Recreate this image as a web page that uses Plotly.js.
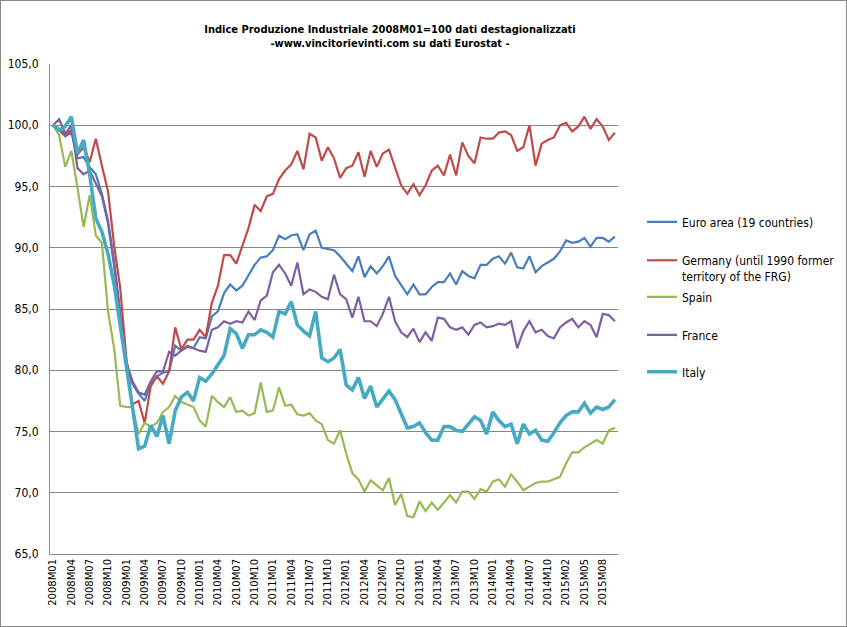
<!DOCTYPE html>
<html>
<head>
<meta charset="utf-8">
<script src="https://cdn.plot.ly/plotly-3.0.1.min.js"></script>
<style>
html,body{margin:0;padding:0;background:#fff;}
#wrap{position:relative;width:847px;height:627px;}
#chart{width:847px;height:627px;}
#frame{position:absolute;left:0;top:0;width:847px;height:627px;box-sizing:border-box;border:1px solid #8a8a8a;pointer-events:none;}
</style>
</head>
<body>
<div id="wrap"><div id="chart"></div><div id="frame"></div></div>
<script>
const categories = [
"2008M01","2008M02","2008M03","2008M04","2008M05","2008M06","2008M07","2008M08","2008M09","2008M10","2008M11","2008M12",
"2009M01","2009M02","2009M03","2009M04","2009M05","2009M06","2009M07","2009M08","2009M09","2009M10","2009M11","2009M12",
"2010M01","2010M02","2010M03","2010M04","2010M05","2010M06","2010M07","2010M08","2010M09","2010M10","2010M11","2010M12",
"2011M01","2011M02","2011M03","2011M04","2011M05","2011M06","2011M07","2011M08","2011M09","2011M10","2011M11","2011M12",
"2012M01","2012M02","2012M03","2012M04","2012M05","2012M06","2012M07","2012M08","2012M09","2012M10","2012M11","2012M12",
"2013M01","2013M02","2013M03","2013M04","2013M05","2013M06","2013M07","2013M08","2013M09","2013M10","2013M11","2013M12",
"2014M01","2014M02","2014M03","2014M04","2014M05","2014M06","2014M07","2014M08","2014M09","2014M10","2014M11","2014M12",
"2015M02","2015M03","2015M04","2015M05","2015M06","2015M07","2015M08","2015M09","2015M10"
];

const euroArea = [100.0,99.6,99.1,99.4,97.3,97.4,96.6,96.0,94.4,92.2,88.9,84.9,
80.5,78.9,78.1,77.5,78.9,79.5,79.8,79.9,82.0,81.6,82.0,81.8,
82.7,82.6,84.4,84.8,86.3,87.0,86.5,86.9,87.8,88.6,89.2,89.3,
89.8,91.0,90.7,91.0,91.1,89.8,91.1,91.4,90.0,89.9,89.8,89.3,
88.7,88.1,89.3,87.6,88.5,87.9,88.5,89.3,87.7,86.9,86.2,87.0,
86.2,86.2,86.8,87.2,87.2,87.9,87.0,88.1,87.7,87.5,88.6,88.6,
89.1,89.3,88.7,89.6,88.4,88.3,89.3,88.0,88.5,88.8,89.1,89.7,
90.6,90.4,90.5,90.8,90.1,90.8,90.8,90.5,90.9];

const germany = [100.0,99.7,99.2,99.6,97.6,98.2,97.0,98.9,96.7,94.6,90.2,86.7,
81.0,77.2,77.5,75.7,78.7,79.5,78.9,79.9,83.5,81.7,82.5,82.5,
83.3,82.7,85.5,86.9,89.4,89.4,88.7,90.2,91.6,93.5,93.0,94.2,
94.4,95.6,96.3,96.8,97.9,96.4,99.3,99.0,97.1,98.2,97.3,95.7,
96.5,96.7,97.8,95.8,97.9,96.6,97.7,98.0,96.5,95.1,94.4,95.2,
94.3,95.1,96.3,96.7,95.9,97.6,95.9,98.6,97.5,96.9,99.0,98.9,
98.9,99.4,99.5,99.2,97.9,98.2,100.0,96.7,98.5,98.8,99.0,100.0,
100.2,99.5,99.9,100.7,99.7,100.5,99.9,98.8,99.4];

const spain = [100.0,99.2,96.6,97.9,94.9,91.7,94.3,91.0,90.4,84.8,81.8,77.1,
77.0,77.0,74.8,75.7,75.4,75.7,76.6,77.0,77.9,77.4,77.2,77.0,
75.9,75.4,77.9,77.4,77.0,77.8,76.6,76.7,76.3,76.5,79.0,76.6,
76.7,78.6,77.1,77.2,76.4,76.3,76.5,75.9,75.6,74.3,74.0,75.1,
73.2,71.6,71.1,70.1,71.0,70.6,70.2,71.2,69.0,69.9,68.1,68.0,
69.3,68.5,69.2,68.6,69.2,69.8,69.2,70.1,70.1,69.5,70.3,70.1,
70.9,71.1,70.5,71.5,70.9,70.2,70.5,70.8,70.9,70.9,71.1,71.3,
72.4,73.3,73.3,73.7,74.0,74.3,74.0,75.1,75.3];

const france = [100.0,100.5,99.3,100.0,96.5,96.0,96.3,95.3,94.2,92.0,88.5,84.5,
80.7,79.1,78.2,78.0,79.1,79.9,79.9,81.5,81.2,81.6,81.9,81.8,
81.6,81.5,83.3,83.5,84.0,83.8,84.0,83.9,84.8,84.1,85.7,86.1,
88.0,88.6,87.9,86.9,88.8,86.2,86.6,86.4,86.0,85.8,87.8,86.2,
85.8,84.3,86.0,84.0,84.0,83.6,84.6,86.0,84.0,83.1,82.7,83.4,
82.3,83.1,82.4,84.3,84.2,83.5,83.3,83.5,82.9,83.7,83.9,83.5,
83.6,83.8,83.7,84.0,81.8,83.2,84.0,83.1,83.3,82.8,82.6,83.5,
83.9,84.2,83.5,84.0,83.7,82.7,84.6,84.5,84.0];

const italy = [100.0,99.6,99.9,100.7,97.7,98.8,96.0,92.4,91.3,89.5,87.0,83.5,
80.0,77.0,73.6,73.8,75.5,74.6,76.3,74.0,76.7,77.8,78.2,77.5,
79.4,79.1,79.7,80.5,81.2,83.4,83.0,81.8,82.9,82.9,83.3,83.1,
82.7,84.8,84.6,85.6,83.7,83.2,82.8,84.8,81.0,80.7,81.0,81.7,
78.8,78.4,79.4,77.7,78.7,77.0,77.6,78.3,77.6,76.4,75.3,75.4,
75.7,74.9,74.3,74.3,75.4,75.4,75.1,75.0,75.6,76.2,75.9,74.8,
76.6,75.9,75.4,75.6,74.0,75.6,74.8,75.1,74.3,74.2,74.9,75.7,
76.3,76.6,76.6,77.3,76.5,77.0,76.8,77.0,77.6];

const seriesNames = ["Euro area (19 countries)","Germany (until 1990 former<br>territory of the FRG)","Spain","France","Italy"];
const seriesColors = ["#4A7EBB","#BE4B48","#98B954","#7D60A0","#46AAC5"];
const seriesWidths = [2.2,2.2,2.2,2.2,3.6];
const seriesData = [euroArea, germany, spain, france, italy];
const legendIds = ["legend","legend2","legend3","legend4","legend5"];
// legend entry centres (pixels from top of page)
const legendCentres = [222, 268.5, 297, 335, 372];

const tickLabels = categories.filter((c,i) => i % 3 === 0);

const traces = seriesData.map((vals, k) => ({
  type: "scatter",
  mode: "lines",
  x: categories,
  y: vals,
  name: seriesNames[k],
  legend: legendIds[k],
  line: {color: seriesColors[k], width: seriesWidths[k]},
  hoverinfo: "x+y+name"
}));

const M = {l: 50, r: 229, t: 64, b: 73};
const H = 627, W = 847;
const legFont = {family: "Liberation Sans Narrow, DejaVu Sans Condensed, Arial, sans-serif", size: 12, color: "#000"};

const layout = {
  width: W,
  height: H,
  margin: {l: M.l, r: M.r, t: M.t, b: M.b, pad: 0, autoexpand: false},
  paper_bgcolor: "#ffffff",
  plot_bgcolor: "#ffffff",
  separators: ",.",
  font: {family: "Liberation Sans Narrow, DejaVu Sans Condensed, Arial, sans-serif", size: 12, color: "#000"},
  title: {
    text: "Indice Produzione Industriale 2008M01=100 dati destagionalizzati<br>-www.vincitorievinti.com su dati Eurostat -",
    font: {family: "DejaVu Sans Condensed, DejaVu Sans, sans-serif", size: 11, color: "#000", weight: "bold"},
    xref: "container", x: 390/W, xanchor: "center",
    yref: "container", y: 1 - 33/H, yanchor: "top"
  },
  xaxis: {
    type: "category",
    range: [-0.5, categories.length - 0.5],
    tickmode: "array",
    tickvals: tickLabels,
    ticktext: tickLabels,
    tickangle: -90,
    tickfont: {family: "DejaVu Sans, Verdana, sans-serif", size: 10, color: "#000"},
    showgrid: false,
    showline: true,
    linecolor: "#868686",
    linewidth: 1,
    ticks: "",
    zeroline: false,
    fixedrange: true
  },
  yaxis: {
    range: [65, 105],
    tick0: 65,
    dtick: 5,
    tickformat: ".1f",
    showgrid: true,
    gridcolor: "#868686",
    gridwidth: 1,
    showline: true,
    linecolor: "#868686",
    linewidth: 1,
    zeroline: false,
    ticks: "",
    ticklabelstandoff: 8,
    tickfont: {family: "Liberation Sans Narrow, DejaVu Sans Condensed, Arial, sans-serif", size: 12, color: "#000"},
    fixedrange: true
  },
  showlegend: true
};

legendIds.forEach((id, k) => {
  layout[id] = {
    xref: "container",
    x: 642 / W, xanchor: "left",
    yref: "container",
    y: 1 - legendCentres[k] / H, yanchor: "middle",
    valign: "top",
    font: legFont,
    bgcolor: "rgba(0,0,0,0)",
    borderwidth: 0
  };
});

Plotly.newPlot("chart", traces, layout, {displayModeBar: false, staticPlot: true});
</script>
</body>
</html>
